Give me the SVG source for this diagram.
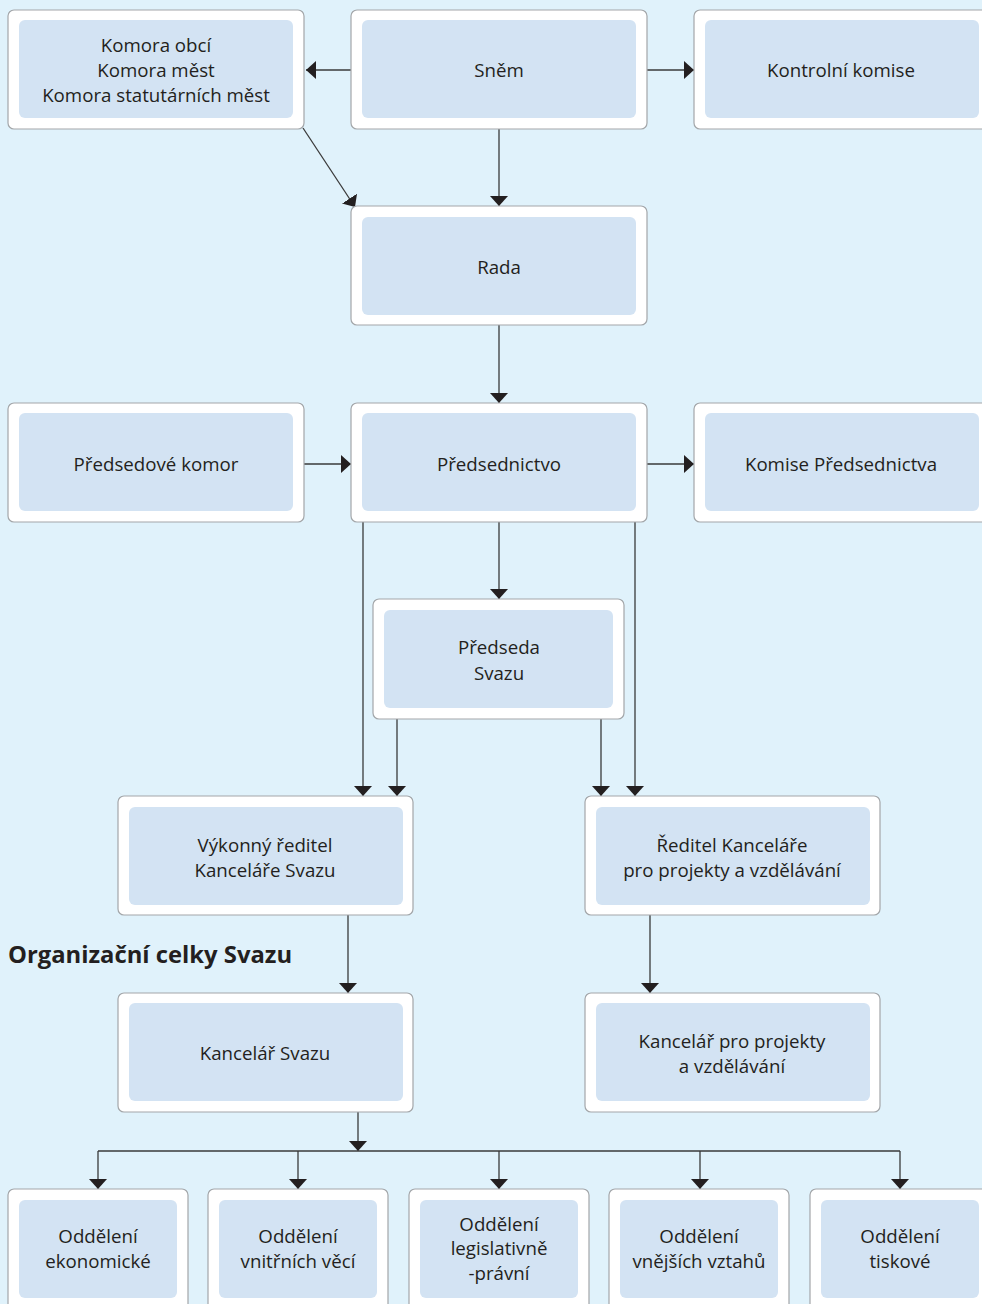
<svg xmlns="http://www.w3.org/2000/svg" width="982" height="1304" viewBox="0 0 982 1304">
<defs>
<style>
.o{fill:#ffffff;stroke:#a3a6a9;stroke-width:1.2}
.i{fill:#d3e3f3}
.t{font-family:"Open Sans","Noto Sans",sans-serif;font-size:18.7px;fill:#231f20;text-anchor:middle}
.h{font-family:"Open Sans","Noto Sans",sans-serif;font-size:23.8px;font-weight:bold;fill:#231f20}
.c line,.c path{stroke:#3a3a3a;stroke-width:1.3;fill:none;marker-end:url(#a)}
.c .n{marker-end:none}
</style>
<marker id="a" markerUnits="userSpaceOnUse" markerWidth="10" markerHeight="18" viewBox="0 0 10 18" refX="10" refY="9" orient="auto">
<path d="M0,0 L10,9 L0,18 z" fill="#231f20"/>
</marker>
</defs>
<rect x="0" y="0" width="982" height="1304" fill="#e0f2fb"/>

<g class="c" id="connectors">
<line x1="351" y1="70" x2="306" y2="70"/>
<line x1="647" y1="70" x2="694" y2="70"/>
<line x1="303" y1="128" x2="355" y2="207"/>
<line x1="499" y1="129" x2="499" y2="206"/>
<line x1="499" y1="325" x2="499" y2="403"/>
<line x1="304" y1="464" x2="351" y2="464"/>
<line x1="647" y1="464" x2="694" y2="464"/>
<line x1="499" y1="522" x2="499" y2="599"/>
<line x1="363" y1="522" x2="363" y2="796"/>
<line x1="635" y1="522" x2="635" y2="796"/>
<line x1="397" y1="719" x2="397" y2="796"/>
<line x1="601" y1="719" x2="601" y2="796"/>
<line x1="348" y1="915" x2="348" y2="993"/>
<line x1="650" y1="915" x2="650" y2="993"/>
<line x1="358" y1="1112" x2="358" y2="1151"/>
<line class="n" x1="98" y1="1151" x2="900" y2="1151"/>
<line x1="98" y1="1151" x2="98" y2="1189"/>
<line x1="298" y1="1151" x2="298" y2="1189"/>
<line x1="499" y1="1151" x2="499" y2="1189"/>
<line x1="700" y1="1151" x2="700" y2="1189"/>
<line x1="900" y1="1151" x2="900" y2="1189"/>
</g>

<g id="komory">
<rect class="o" x="8" y="10" width="296" height="119" rx="6"/>
<rect class="i" x="19" y="20" width="274" height="98" rx="6"/>
<text class="t" x="156" y="52">Komora obcí</text>
<text class="t" x="156" y="77">Komora měst</text>
<text class="t" x="156" y="102">Komora statutárních měst</text>
</g>
<g id="snem">
<rect class="o" x="351" y="10" width="296" height="119" rx="6"/>
<rect class="i" x="362" y="20" width="274" height="98" rx="6"/>
<text class="t" x="499" y="77">Sněm</text>
</g>
<g id="kontrolni-komise">
<rect class="o" x="694" y="10" width="296" height="119" rx="6"/>
<rect class="i" x="705" y="20" width="274" height="98" rx="6"/>
<text class="t" x="841" y="77">Kontrolní komise</text>
</g>
<g id="rada">
<rect class="o" x="351" y="206" width="296" height="119" rx="6"/>
<rect class="i" x="362" y="217" width="274" height="98" rx="6"/>
<text class="t" x="499" y="274">Rada</text>
</g>
<g id="predsedove-komor">
<rect class="o" x="8" y="403" width="296" height="119" rx="6"/>
<rect class="i" x="19" y="413" width="274" height="98" rx="6"/>
<text class="t" x="156" y="471">Předsedové komor</text>
</g>
<g id="predsednictvo">
<rect class="o" x="351" y="403" width="296" height="119" rx="6"/>
<rect class="i" x="362" y="413" width="274" height="98" rx="6"/>
<text class="t" x="499" y="471">Předsednictvo</text>
</g>
<g id="komise-predsednictva">
<rect class="o" x="694" y="403" width="296" height="119" rx="6"/>
<rect class="i" x="705" y="413" width="274" height="98" rx="6"/>
<text class="t" x="841" y="471">Komise Předsednictva</text>
</g>
<g id="predseda">
<rect class="o" x="373" y="599" width="251" height="120" rx="6"/>
<rect class="i" x="384" y="610" width="229" height="98" rx="6"/>
<text class="t" x="499" y="654">Předseda</text>
<text class="t" x="499" y="680">Svazu</text>
</g>
<g id="vykonny-reditel">
<rect class="o" x="118" y="796" width="295" height="119" rx="6"/>
<rect class="i" x="129" y="807" width="274" height="98" rx="6"/>
<text class="t" x="265" y="852">Výkonný ředitel</text>
<text class="t" x="265" y="877">Kanceláře Svazu</text>
</g>
<g id="reditel-kancelare">
<rect class="o" x="585" y="796" width="295" height="119" rx="6"/>
<rect class="i" x="596" y="807" width="274" height="98" rx="6"/>
<text class="t" x="732" y="852">Ředitel Kanceláře</text>
<text class="t" x="732" y="877">pro projekty a vzdělávání</text>
</g>
<text class="h" x="8" y="963">Organizační celky Svazu</text>
<g id="kancelar-svazu">
<rect class="o" x="118" y="993" width="295" height="119" rx="6"/>
<rect class="i" x="129" y="1003" width="274" height="98" rx="6"/>
<text class="t" x="265" y="1060">Kancelář Svazu</text>
</g>
<g id="kancelar-projekty">
<rect class="o" x="585" y="993" width="295" height="119" rx="6"/>
<rect class="i" x="596" y="1003" width="274" height="98" rx="6"/>
<text class="t" x="732" y="1048">Kancelář pro projekty</text>
<text class="t" x="732" y="1073">a vzdělávání</text>
</g>
<g id="odd-ekonomicke">
<rect class="o" x="8" y="1189" width="180" height="125" rx="6"/>
<rect class="i" x="19" y="1200" width="158" height="98" rx="6"/>
<text class="t" x="98" y="1243">Oddělení</text>
<text class="t" x="98" y="1268">ekonomické</text>
</g>
<g id="odd-vnitrnich">
<rect class="o" x="208" y="1189" width="180" height="125" rx="6"/>
<rect class="i" x="219" y="1200" width="158" height="98" rx="6"/>
<text class="t" x="298" y="1243">Oddělení</text>
<text class="t" x="298" y="1268">vnitřních věcí</text>
</g>
<g id="odd-legislativni">
<rect class="o" x="409" y="1189" width="180" height="125" rx="6"/>
<rect class="i" x="420" y="1200" width="158" height="98" rx="6"/>
<text class="t" x="499" y="1231">Oddělení</text>
<text class="t" x="499" y="1255">legislativně</text>
<text class="t" x="499" y="1280">-právní</text>
</g>
<g id="odd-vnejsich">
<rect class="o" x="609" y="1189" width="180" height="125" rx="6"/>
<rect class="i" x="620" y="1200" width="158" height="98" rx="6"/>
<text class="t" x="699" y="1243">Oddělení</text>
<text class="t" x="699" y="1268">vnějších vztahů</text>
</g>
<g id="odd-tiskove">
<rect class="o" x="810" y="1189" width="180" height="125" rx="6"/>
<rect class="i" x="821" y="1200" width="158" height="98" rx="6"/>
<text class="t" x="900" y="1243">Oddělení</text>
<text class="t" x="900" y="1268">tiskové</text>
</g>
</svg>
